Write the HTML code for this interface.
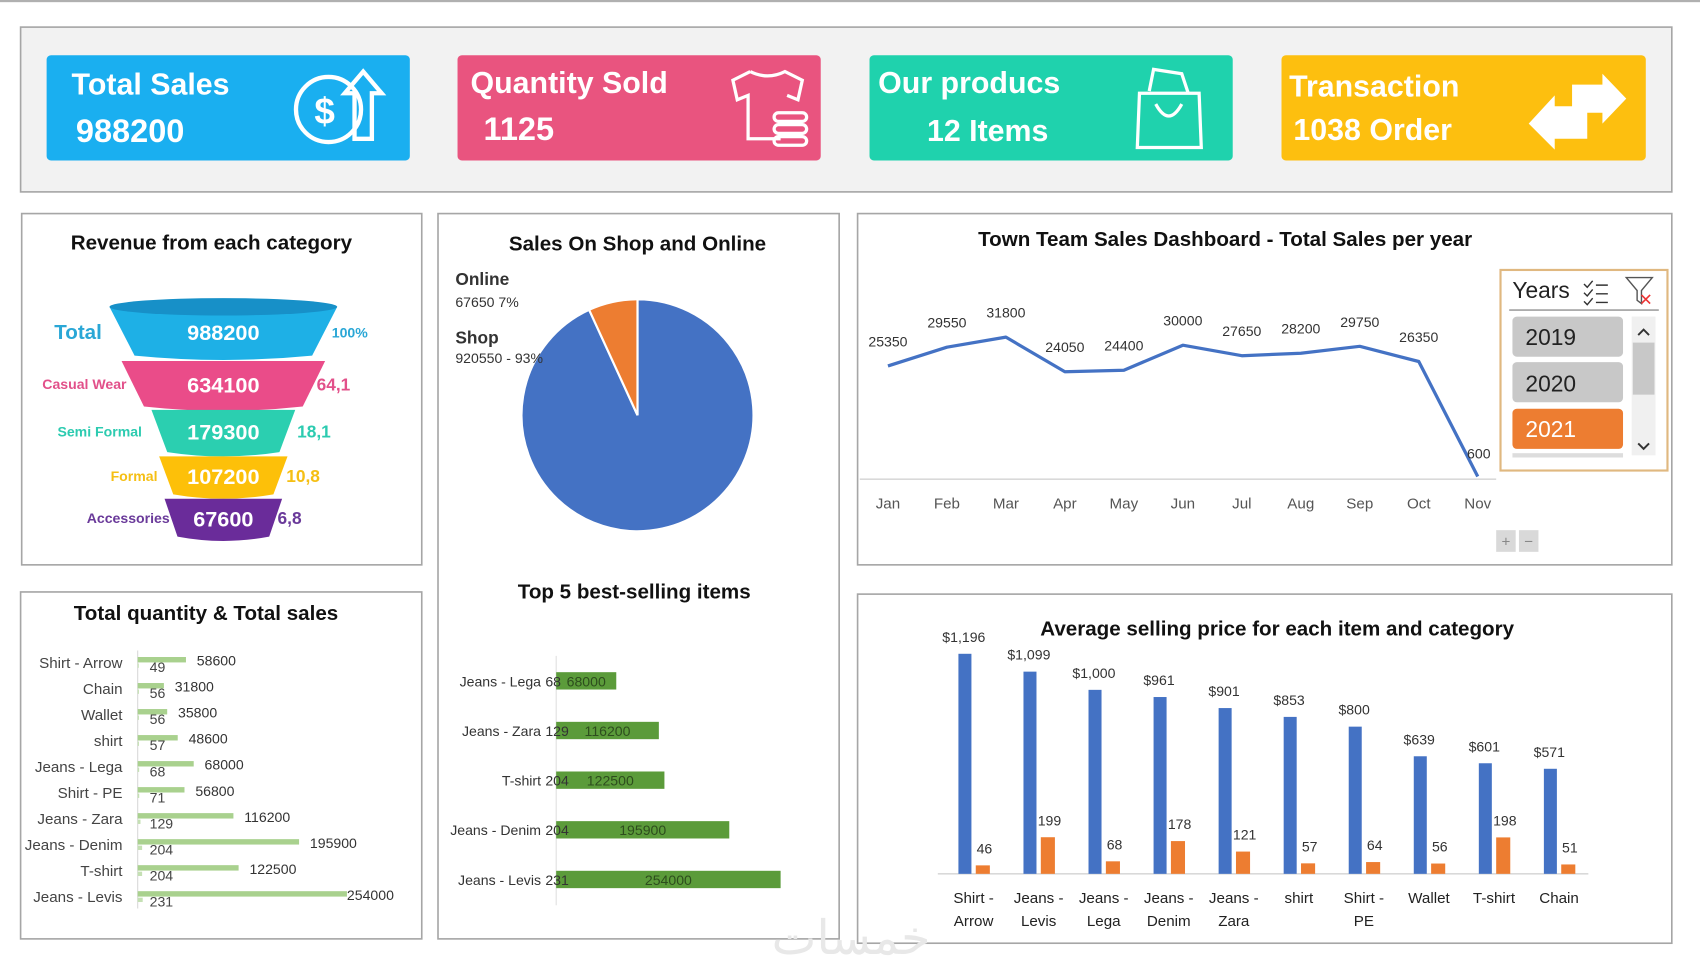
<!DOCTYPE html>
<html><head><meta charset="utf-8"><style>
html,body{margin:0;padding:0;background:#fff;width:1700px;height:970px;overflow:hidden}
svg{display:block;font-family:"Liberation Sans","Noto Sans CJK SC",sans-serif}
</style></head><body>
<svg id="dash" width="1700" height="970" viewBox="0 0 1568 894.7" preserveAspectRatio="none" xmlns="http://www.w3.org/2000/svg">
<rect x="0" y="0" width="1568" height="2" fill="#b0b0b0"/>
<!-- KPI panel -->
<g>
<rect x="19" y="25" width="1523" height="152" fill="#f2f2f2" stroke="#a6a6a6" stroke-width="1.5"/>
<g>
<rect x="43" y="51" width="335" height="97" rx="4" fill="#1aaff0"/>
<text x="66" y="87" font-size="28" font-weight="bold" fill="#fff">Total Sales</text>
<text x="70" y="131" font-size="30" font-weight="bold" fill="#fff">988200</text>
<circle cx="303" cy="101" r="30" fill="none" stroke="#fff" stroke-width="4"/>
<text x="290" y="114" font-size="34" font-weight="bold" fill="#fff">$</text>
<path d="M327 128 V86 H318 L335 66 L352 86 H343 V128 Z" fill="none" stroke="#fff" stroke-width="4"/>
</g>
<g>
<rect x="422" y="51" width="335" height="97" rx="4" fill="#e9547f"/>
<text x="434" y="86" font-size="28" font-weight="bold" fill="#fff">Quantity Sold</text>
<text x="446" y="129" font-size="30" font-weight="bold" fill="#fff">1125</text>
<path d="M692 66 L676 74 L680 92 L690 88 L690 128 L720 128 M692 66 Q708 74 724 66 L740 74 L736 92 L726 88" fill="none" stroke="#fff" stroke-width="3"/>
<rect x="714" y="104" width="30" height="8" rx="4" fill="none" stroke="#fff" stroke-width="3"/>
<rect x="714" y="115" width="30" height="8" rx="4" fill="none" stroke="#fff" stroke-width="3"/>
<rect x="714" y="126" width="30" height="8" rx="4" fill="none" stroke="#fff" stroke-width="3"/>
</g>
<g>
<rect x="802" y="51" width="335" height="97" rx="4" fill="#1fd2ad"/>
<text x="810" y="86" font-size="28" font-weight="bold" fill="#fff">Our producs</text>
<text x="855" y="130" font-size="28" font-weight="bold" fill="#fff">12 Items</text>
<path d="M1051 86 L1106 86 L1108 136 L1049 136 Z" fill="none" stroke="#fff" stroke-width="3"/>
<path d="M1066 96 Q1078 118 1090 96" fill="none" stroke="#fff" stroke-width="3"/>
<path d="M1060 84 L1064 64 L1090 68 L1096 86" fill="none" stroke="#fff" stroke-width="3"/>
</g>
<g>
<rect x="1182" y="51" width="336" height="97" rx="4" fill="#fdbf0f"/>
<text x="1189" y="89" font-size="28" font-weight="bold" fill="#fff">Transaction</text>
<text x="1193" y="129" font-size="28" font-weight="bold" fill="#fff">1038 Order</text>
<path d="M1450 78 H1478 V68 L1500 91 L1478 114 V104 H1450 Z" fill="#fff"/>
<path d="M1464 98 H1434 V88 L1410 114 L1434 138 V128 H1464 Z" fill="#fff"/>
</g>
</g>
<!-- Funnel panel -->
<g>
<rect x="20" y="197" width="369" height="324" fill="#fff" stroke="#a6a6a6" stroke-width="1.5"/>
<text x="195" y="230" text-anchor="middle" font-size="19" font-weight="bold" fill="#111">Revenue from each category</text>
<g id="funnel"></g>
</g>
<!-- Pie panel -->
<g>
<rect x="404" y="197" width="370" height="669" fill="#fff" stroke="#a6a6a6" stroke-width="1.5"/>
<text x="588" y="231" text-anchor="middle" font-size="19" font-weight="bold" fill="#111">Sales On Shop and Online</text>
<g id="pie"></g>
<text x="585" y="552" text-anchor="middle" font-size="19" font-weight="bold" fill="#111">Top 5 best-selling items</text>
<g id="top5"></g>
</g>
<!-- Line panel -->
<g>
<rect x="791" y="197" width="751" height="324" fill="#fff" stroke="#a6a6a6" stroke-width="1.5"/>
<text x="1130" y="227" text-anchor="middle" font-size="19" font-weight="bold" fill="#111">Town Team Sales Dashboard - Total Sales per year</text>
<g id="line"></g>
<g>
<rect x="1384" y="249" width="154" height="185" fill="#fff" stroke="#e0b880" stroke-width="2"/>
<text x="1395" y="275" font-size="21" fill="#222">Years</text>
<path d="M1461 262 l3 3 l5 -6 M1461 270 l3 3 l5 -6 M1461 278 l3 3 l5 -6 M1472 263 h11 M1472 271 h11 M1472 279 h11" stroke="#333" stroke-width="1.3" fill="none"/>
<path d="M1500 256 h24 l-10 12 v12 l-4 -3 v-9 z" fill="none" stroke="#555" stroke-width="1.3"/>
<path d="M1514 272 l8 8 M1522 272 l-8 8" stroke="#e33" stroke-width="1.5"/>
<line x1="1392" y1="286" x2="1530" y2="286" stroke="#a0a0a0" stroke-width="1.5"/>
<g><rect x="1395" y="292" width="102" height="37" rx="4" fill="#c8c8c8"/><text x="1407" y="318" font-size="21" fill="#222">2019</text></g>
<g><rect x="1395" y="334" width="102" height="37" rx="4" fill="#c8c8c8"/><text x="1407" y="361" font-size="21" fill="#222">2020</text></g>
<g><rect x="1395" y="377" width="102" height="37" rx="4" fill="#ed7d31"/><text x="1407" y="403" font-size="21" fill="#fff">2021</text></g>
<rect x="1395" y="418" width="102" height="4" fill="#ddd"/>
<g><rect x="1505" y="292" width="22" height="128" fill="#f0f0f0"/><rect x="1506" y="316" width="20" height="48" fill="#c8c8c8"/>
<path d="M1511 309 l5 -5 l5 5 M1511 409 l5 5 l5 -5" stroke="#333" stroke-width="1.8" fill="none"/></g>
</g>
<g>
<rect x="1380" y="489" width="18" height="20" fill="#d9d9d9"/><rect x="1401" y="489" width="18" height="20" fill="#d9d9d9"/>
<text x="1389" y="504" text-anchor="middle" font-size="14" fill="#888">+</text><text x="1410" y="504" text-anchor="middle" font-size="14" fill="#888">−</text>
</g>
</g>
<!-- Qty panel -->
<g>
<rect x="19" y="546" width="370" height="320" fill="#fff" stroke="#a6a6a6" stroke-width="1.5"/>
<text x="190" y="572" text-anchor="middle" font-size="19" font-weight="bold" fill="#111">Total quantity  &amp; Total sales</text>
<g id="qty"></g>
</g>
<!-- Avg panel -->
<g>
<rect x="791" y="548" width="751" height="322" fill="#fff" stroke="#a6a6a6" stroke-width="1.5"/>
<text x="1178" y="586" text-anchor="middle" font-size="19" font-weight="bold" fill="#111">Average selling price for each item and category</text>
<g id="avg"></g>
</g>
<text x="785" y="880" text-anchor="middle" font-size="44" fill="#e8e8e8" font-family="'Liberation Sans','WenQuanYi Zen Hei',sans-serif">خمسات</text>
</svg>
<script>
// ---- data ----
const funnelCats = ["Total","Casual Wear","Semi Formal","Formal","Accessories"];
const funnelVals = [988200,634100,179300,107200,67600];
const funnelPcts = ["100%","64,1","18,1","10,8","6,8"];
const pieLabels = ["Online","Shop"];
const pieVals = [67650,920550];
const months = ["Jan","Feb","Mar","Apr","May","Jun","Jul","Aug","Sep","Oct","Nov"];
const monthSales = [25350,29550,31800,24050,24400,30000,27650,28200,29750,26350,600];
const qtyCats = ["Shirt - Arrow","Chain","Wallet","shirt","Jeans - Lega","Shirt - PE","Jeans - Zara","Jeans - Denim","T-shirt","Jeans - Levis"];
const qtyVals = [49,56,56,57,68,71,129,204,204,231];
const salesVals = [58600,31800,35800,48600,68000,56800,116200,195900,122500,254000];
const topCats = ["Jeans - Lega","Jeans - Zara","T-shirt","Jeans - Denim","Jeans - Levis"];
const topQty = [68,129,204,204,231];
const topSales = [68000,116200,122500,195900,254000];
const avgCats = [["Shirt -","Arrow"],["Jeans -","Levis"],["Jeans -","Lega"],["Jeans -","Denim"],["Jeans -","Zara"],["shirt"],["Shirt -","PE"],["Wallet"],["T-shirt"],["Chain"]];
const avgPrice = [1196,1099,1000,961,901,853,800,639,601,571];
const avgQty = [46,199,68,178,121,57,64,56,198,51];

const NS="http://www.w3.org/2000/svg";
function mk(parent,tag,attrs,txt){const e=document.createElementNS(NS,tag);for(const k in attrs)e.setAttribute(k,attrs[k]);if(txt!==undefined)e.textContent=txt;parent.appendChild(e);return e;}

// ---- funnel ----
(function(){
 const g=document.getElementById('funnel');
 const cols=["#1eb0e6","#ea4c89","#2bcfb0","#fdc009","#6a2c9a"];
 const lcols=["#2aa7d6","#e2508a","#2ccbb0","#f5bf14","#6a3a9a"];
 const tops=[283,333,378,421,460], bots=[328,375,417,456,495];
 const maxV=funnelVals[0];
 funnelVals.forEach((v,i)=>{
  const wTop=70+140*Math.sqrt(v/maxV)*(i==0?1:1.05), wBot=wTop*0.78;
  const cx=206;
  const p=mk(g,'path',{d:`M${cx-wTop/2} ${tops[i]} L${cx+wTop/2} ${tops[i]} L${cx+wBot/2} ${bots[i]} Q${cx} ${bots[i]+8} ${cx-wBot/2} ${bots[i]} Z`,fill:cols[i]});
  
  
  if(i==0){const el=mk(g,'ellipse',{cx:cx,cy:tops[0],rx:wTop/2,ry:8,fill:"#1790c8"});}
  const t=mk(g,'text',{x:cx,y:(tops[i]+bots[i])/2+8,'text-anchor':'middle','font-size':20,'font-weight':'bold',fill:'#fff'},String(v));
  
  
  const fs=i==0?19:13;
  const l=mk(g,'text',{x:[50,39,53,102,80][i],y:(tops[i]+bots[i])/2+(i==0?7:5),'font-size':fs,'font-weight':'bold',fill:lcols[i]},funnelCats[i]);
  
  
  const pc=mk(g,'text',{x:[306,292,274,264,256][i],y:(tops[i]+bots[i])/2+6,'font-size':i==0?13:16,'font-weight':'bold',fill:lcols[i]},funnelPcts[i]);
  
  
 });
})();

// ---- pie ----
(function(){
 const g=document.getElementById('pie');
 const cx=588,cy=383,r=107,tot=pieVals[0]+pieVals[1];
 const cols=["#ed7d31","#4472c4"];
 let a0=-pieVals[0]/tot*2*Math.PI;
 const starts=[a0,0], ends=[0,2*Math.PI+a0];
 [1,0].forEach(i=>{
  const s=starts[i],e=ends[i];
  const x1=cx+r*Math.sin(s),y1=cy-r*Math.cos(s),x2=cx+r*Math.sin(e),y2=cy-r*Math.cos(e);
  const large=(e-s)>Math.PI?1:0;
  const p=mk(g,'path',{d:`M${cx} ${cy} L${x1} ${y1} A${r} ${r} 0 ${large} 1 ${x2} ${y2} Z`,fill:cols[i],stroke:'#fff','stroke-width':2});
  
  
 });
 const pct=v=>Math.round(v/tot*100)+"%";
 const a=mk(g,'text',{x:420,y:263,'font-size':16,'font-weight':'bold',fill:'#333'},pieLabels[0]);
 const b=mk(g,'text',{x:420,y:283,'font-size':13,fill:'#333'},pieVals[0]+"    "+pct(pieVals[0]));
 const c=mk(g,'text',{x:420,y:317,'font-size':16,'font-weight':'bold',fill:'#333'},pieLabels[1]);
 const d=mk(g,'text',{x:420,y:335,'font-size':13,fill:'#333'},pieVals[1]+" - "+pct(pieVals[1]));
})();

// ---- top 5 ----
(function(){
 const g=document.getElementById('top5');
 const x0=513, xs=v=>x0+v*(207/254000), ys=i=>628+i*45.8;
 const ax=mk(g,'line',{x1:x0,y1:605,x2:x0,y2:835,stroke:'#e0e0e0'});
 topCats.forEach((c,i)=>{
  const y=ys(i);
  const r=mk(g,'rect',{x:x0,y:y-8,width:xs(topSales[i])-x0,height:16,fill:'#5b9b3a'});
  
  
  const t=mk(g,'text',{x:499,y:y+5,'text-anchor':'end','font-size':13,fill:'#333'},c);
  
  
  const q=mk(g,'text',{x:503,y:y+5,'font-size':13,fill:'#333'},String(topQty[i]));
  
  
  const v=mk(g,'text',{x:(x0+xs(topSales[i]))/2+(i==0?0:0),y:y+5,'text-anchor':'middle','font-size':13,fill:'#2d4d1d'},String(topSales[i]));
  
  
 });
})();

// ---- line ----
(function(){
 const g=document.getElementById('line');
 const xs=i=>819+i*54.4, ys=v=>442-v*0.00412;
 const ax=mk(g,'line',{x1:793,y1:442,x2:1380,y2:442,stroke:'#d9d9d9','stroke-width':1.5});
 const pts=monthSales.map((v,i)=>xs(i)+","+ys(v)).join(" ");
 const pl=mk(g,'polyline',{points:pts,fill:'none',stroke:'#4472c4','stroke-width':3,'stroke-linejoin':'round'});
 
 
 monthSales.forEach((v,i)=>{
  const t=mk(g,'text',{x:xs(i)+(i==10?1:0),y:i==10?423:ys(v)-18,'text-anchor':'middle','font-size':13,fill:'#333'},String(v));
  
  
  const m=mk(g,'text',{x:xs(i),y:469,'text-anchor':'middle','font-size':14,fill:'#555'},months[i]);
  
  
 });
})();

// ---- qty & sales ----
(function(){
 const g=document.getElementById('qty');
 const x0=127, xs=v=>x0+v*(193/254000), qs=v=>v*0.02, ys=i=>611+i*24;
 const ax=mk(g,'line',{x1:x0,y1:600,x2:x0,y2:838,stroke:'#d9d9d9'});
 qtyCats.forEach((c,i)=>{
  const y=ys(i);
  const b=mk(g,'rect',{x:x0,y:y-5,width:xs(salesVals[i])-x0,height:5,fill:'#a9d18e'});
  
  
  const q=mk(g,'rect',{x:x0,y:y+1,width:qs(qtyVals[i]),height:4,fill:'#c5e0b4'});
  
  
  const t=mk(g,'text',{x:113,y:y+5,'text-anchor':'end','font-size':14,fill:'#444'},c);
  
  
  const ql=mk(g,'text',{x:138,y:y+9,'font-size':13,fill:'#444'},String(qtyVals[i]));
  
  
  const sl=mk(g,'text',{x:xs(salesVals[i])+(i==9?0:10),y:y+3,'font-size':13,fill:'#333'},String(salesVals[i]));
  
  
 });
})();

// ---- avg price ----
(function(){
 const g=document.getElementById('avg');
 const base=806, ys=v=>base-v*0.1697, cx=i=>898+i*60;
 const ax=mk(g,'line',{x1:865,y1:base,x2:1465,y2:base,stroke:'#d9d9d9','stroke-width':1.5});
 avgCats.forEach((c,i)=>{
  const x=cx(i);
  const b=mk(g,'rect',{x:x-14,y:ys(avgPrice[i]),width:12,height:base-ys(avgPrice[i]),fill:'#4472c4'});
  
  
  const o=mk(g,'rect',{x:x+2,y:ys(avgQty[i]),width:13,height:base-ys(avgQty[i]),fill:'#ed7d31'});
  
  
  const pl=mk(g,'text',{x:x-9,y:ys(avgPrice[i])-11,'text-anchor':'middle','font-size':13,fill:'#333'},"$"+avgPrice[i].toLocaleString('en-US'));
  
  
  const ql=mk(g,'text',{x:x+10,y:ys(avgQty[i])-11,'text-anchor':'middle','font-size':13,fill:'#333'},String(avgQty[i]));
  
  
  c.forEach((line,j)=>{
   const t=mk(g,'text',{x:x,y:833+j*21,'text-anchor':'middle','font-size':14,fill:'#222'},line);
   
   
  });
 });
})();
</script>
</body></html>
